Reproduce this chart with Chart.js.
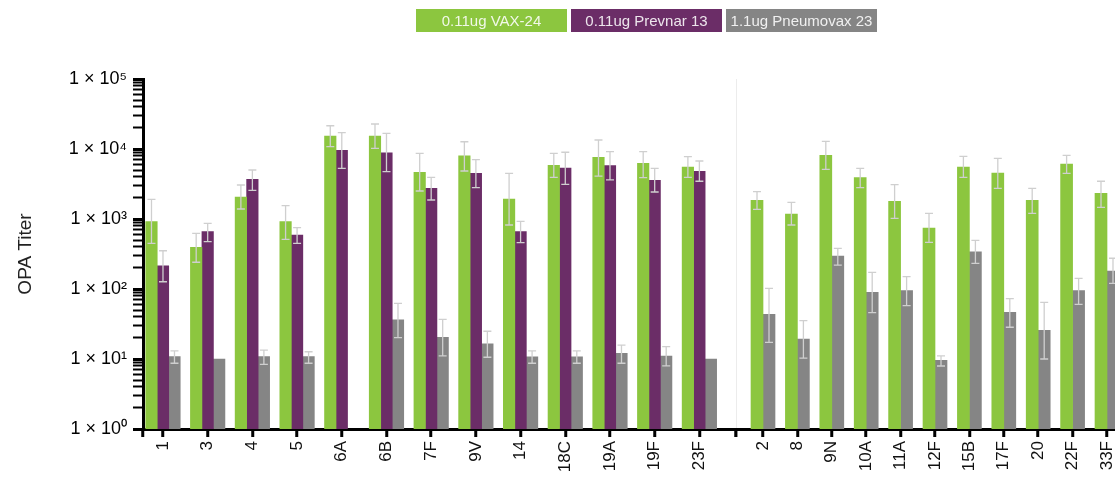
<!DOCTYPE html>
<html>
<head>
<meta charset="utf-8">
<script src="https://cdn.jsdelivr.net/npm/chart.js@4/dist/chart.umd.min.js"></script>
<style>
  html, body { margin: 0; padding: 0; background: #fff; }
  body { width: 1115px; height: 477px; overflow: hidden; position: relative; font-family: "Liberation Sans", Arial, sans-serif; }
  #legend { position: absolute; left: 416px; top: 9px; display: flex; gap: 4px; z-index: 5; }
  #legend div { height: 23px; width: 151px; line-height: 23px; text-align: center; font-size: 15px; color: rgba(255,255,255,0.88); }
  canvas { position: absolute; top: 0; }
  #left { left: 0; }
  #right { left: 736px; }
</style>
</head>
<body>
<div id="legend"></div>
<canvas id="left" width="740" height="477"></canvas>
<canvas id="right" width="400" height="477"></canvas>
<script>
// ---------- data ----------
const seriesNames = ['0.11ug VAX-24', '0.11ug Prevnar 13', '1.1ug Pneumovax 23'];
const yTitle = 'OPA Titer';

const catsLeft = ['1','3','4','5','6A','6B','7F','9V','14','18C','19A','19F','23F'];
const vaxL    = [915, 394, 2062, 915, 15340, 15340, 4650, 8020, 1930, 5850, 7610, 6250, 5530];
const vaxLHi  = [1910, 625, 3060, 1549, 21500, 22750, 8680, 12700, 4500, 8680, 13450, 9160, 7760];
const vaxLLo  = [450, 241, 1389, 513, 10790, 10230, 2510, 4850, 821, 3945, 4110, 3890, 3945];
const prevL   = [215, 659, 3690, 591, 9580, 8850, 2745, 4500, 659, 5350, 5780, 3570, 4800];
const prevLHi = [352, 868, 5010, 751, 17100, 16750, 3945, 7030, 927, 8980, 9160, 5300, 6740];
const prevLLo = [127, 474, 2570, 450, 5300, 4740, 1868, 2800, 459, 3130, 3610, 2430, 3460];
const pneuL   = [10.8, 10, 10.8, 10.8, null, 36.4, 20.4, 16.5, 10.7, 10.7, 12.1, 11.0, 10];
const pneuLHi = [13.1, null, 13.4, 12.7, null, 62.5, 36.9, 24.9, 13.1, 13.1, 15.8, 15.0, null];
const pneuLLo = [8.7, null, 8.4, 8.7, null, 20.2, 11.1, 10.6, 8.7, 8.7, 8.7, 8.0, null];

const catsRight = ['2','8','9N','10A','11A','12F','15B','17F','20','22F','33F'];
const vaxR    = [1850, 1180, 8130, 3890, 1790, 744, 5530, 4540, 1850, 6110, 2330];
const vaxRHi  = [2455, 1730, 12880, 5300, 3090, 1206, 7860, 7360, 2745, 8130, 3460];
const vaxRLo  = [1375, 821, 5130, 2800, 1023, 465, 3945, 2745, 1206, 4500, 1470];
const pneuR   = [43.5, 19.3, 296, 89.7, 94.6, 9.58, 341, 46.5, 25.7, 94.6, 181];
const pneuRHi = [102, 35.3, 381, 173, 150, 11.1, 496, 72.7, 64.6, 142, 275];
const pneuRLo = [17.3, 10.3, 220, 45.9, 57.7, 7.94, 233, 28.4, 10, 60.4, 120];

// ---------- styles ----------
const COLORS = ['#8cc63f', '#6b2d67', '#858585'];
const FONT = '"Liberation Sans", Arial, sans-serif';
const ERR_COLOR = '#cfcfcf';
Chart.defaults.font.family = FONT;

// legend (HTML, built from series names/colours)
const legendEl = document.getElementById('legend');
seriesNames.forEach((n, i) => {
  const d = document.createElement('div');
  d.textContent = n;
  d.style.background = COLORS[i];
  legendEl.appendChild(d);
});

const SUP = ['⁰','¹','²','³','⁴','⁵','⁶','⁷','⁸','⁹'];
const isPow10 = v => { const l = Math.log10(v); return Math.abs(l - Math.round(l)) < 1e-9; };

const errorBars = {
  id: 'errorBars',
  afterDatasetsDraw(chart) {
    const ctx = chart.ctx, ys = chart.scales.y;
    ctx.save();
    ctx.strokeStyle = ERR_COLOR;
    ctx.lineWidth = 1.3;
    chart.data.datasets.forEach((ds, di) => {
      const meta = chart.getDatasetMeta(di);
      meta.data.forEach((bar, i) => {
        const hi = ds.errHi[i], lo = ds.errLo[i];
        if (hi == null || lo == null || ds.data[i].y == null) return;
        const x = bar.x, yh = ys.getPixelForValue(hi), yl = ys.getPixelForValue(lo);
        ctx.beginPath();
        ctx.moveTo(x, yh); ctx.lineTo(x, yl);
        ctx.moveTo(x - 4, yh); ctx.lineTo(x + 4, yh);
        ctx.moveTo(x - 4, yl); ctx.lineTo(x + 4, yl);
        ctx.stroke();
      });
    });
    ctx.restore();
  }
};

const toXY = arr => arr.map((v, i) => ({ x: i, y: v }));

function makeXAxis(cats, min, max, gridColor) {
  return {
    type: 'linear', position: 'bottom', min, max, offset: false,
    border: { display: true, color: '#000', width: 3 },
    grid: {
      display: true, offset: false, drawOnChartArea: true, drawTicks: true,
      tickLength: 8, tickColor: '#000', tickWidth: 3,
      color: gridColor, lineWidth: 1.5
    },
    ticks: {
      autoSkip: false, minRotation: 90, maxRotation: 90, padding: 4,
      color: '#111', font: { size: 17, family: FONT },
      callback: v => Number.isInteger(v) ? cats[v] : ''
    },
    afterBuildTicks: s => {
      s.ticks = [{ value: s.min }].concat(cats.map((c, i) => ({ value: i })), [{ value: s.max }]);
    },
    afterFit: s => { s.height = 48; s.paddingLeft = 0; s.paddingRight = 0; }
  };
}

function makeYAxis(show) {
  return {
    type: 'logarithmic', min: 1, max: 100000, position: 'left', display: show,
    border: { display: true, color: '#000', width: 3 },
    grid: {
      drawOnChartArea: false, drawTicks: true, tickLength: 10, tickColor: '#000',
      tickWidth: c => (c.tick && isPow10(c.tick.value)) ? 3 : 2
    },
    ticks: {
      autoSkip: false, padding: 6, color: '#000', font: { size: 18, family: FONT },
      callback: v => isPow10(v) ? '1 × 10' + SUP[Math.round(Math.log10(v))] : ''
    },
    afterBuildTicks: s => {
      const t = [];
      for (let k = 0; k < 5; k++) for (let m = 1; m < 10; m++) t.push({ value: m * Math.pow(10, k) });
      t.push({ value: 100000 });
      s.ticks = t;
    },
    title: { display: show, text: yTitle, color: '#222', font: { size: 19, family: FONT }, padding: { top: 14, bottom: 0 } },
    afterFit: s => { s.width = show ? 143 : 0; }
  };
}

const common = {
  responsive: false, animation: false,
  plugins: { legend: { display: false }, tooltip: { enabled: false } }
};

new Chart(document.getElementById('left'), {
  type: 'bar',
  data: {
    datasets: [
      { label: seriesNames[0], data: toXY(vaxL),  errHi: vaxLHi,  errLo: vaxLLo,  backgroundColor: COLORS[0] },
      { label: seriesNames[1], data: toXY(prevL), errHi: prevLHi, errLo: prevLLo, backgroundColor: COLORS[1] },
      { label: seriesNames[2], data: toXY(pneuL), errHi: pneuLHi, errLo: pneuLLo, backgroundColor: COLORS[2] }
    ]
  },
  options: Object.assign({}, common, {
    barThickness: 11.5,
    layout: { padding: { top: 79, right: 4, left: 0, bottom: 0 } },
    scales: {
      x: makeXAxis(catsLeft, -0.447, 12.819, 'rgba(0,0,0,0)'),
      y: makeYAxis(true)
    }
  }),
  plugins: [errorBars]
});

new Chart(document.getElementById('right'), {
  type: 'bar',
  data: {
    datasets: [
      { label: seriesNames[0], data: toXY(vaxR),  errHi: vaxRHi,  errLo: vaxRLo,  backgroundColor: COLORS[0] },
      { label: seriesNames[2], data: toXY(pneuR), errHi: pneuRHi, errLo: pneuRLo, backgroundColor: COLORS[2] }
    ]
  },
  options: Object.assign({}, common, {
    barThickness: 12,
    layout: { padding: { top: 79, right: 0, left: 0, bottom: 0 } },
    scales: {
      x: makeXAxis(catsRight, -0.785, 10.843, c => c.index === 0 ? '#d9d9d9' : 'rgba(0,0,0,0)'),
      y: makeYAxis(false)
    }
  }),
  plugins: [errorBars]
});
</script>
</body>
</html>
